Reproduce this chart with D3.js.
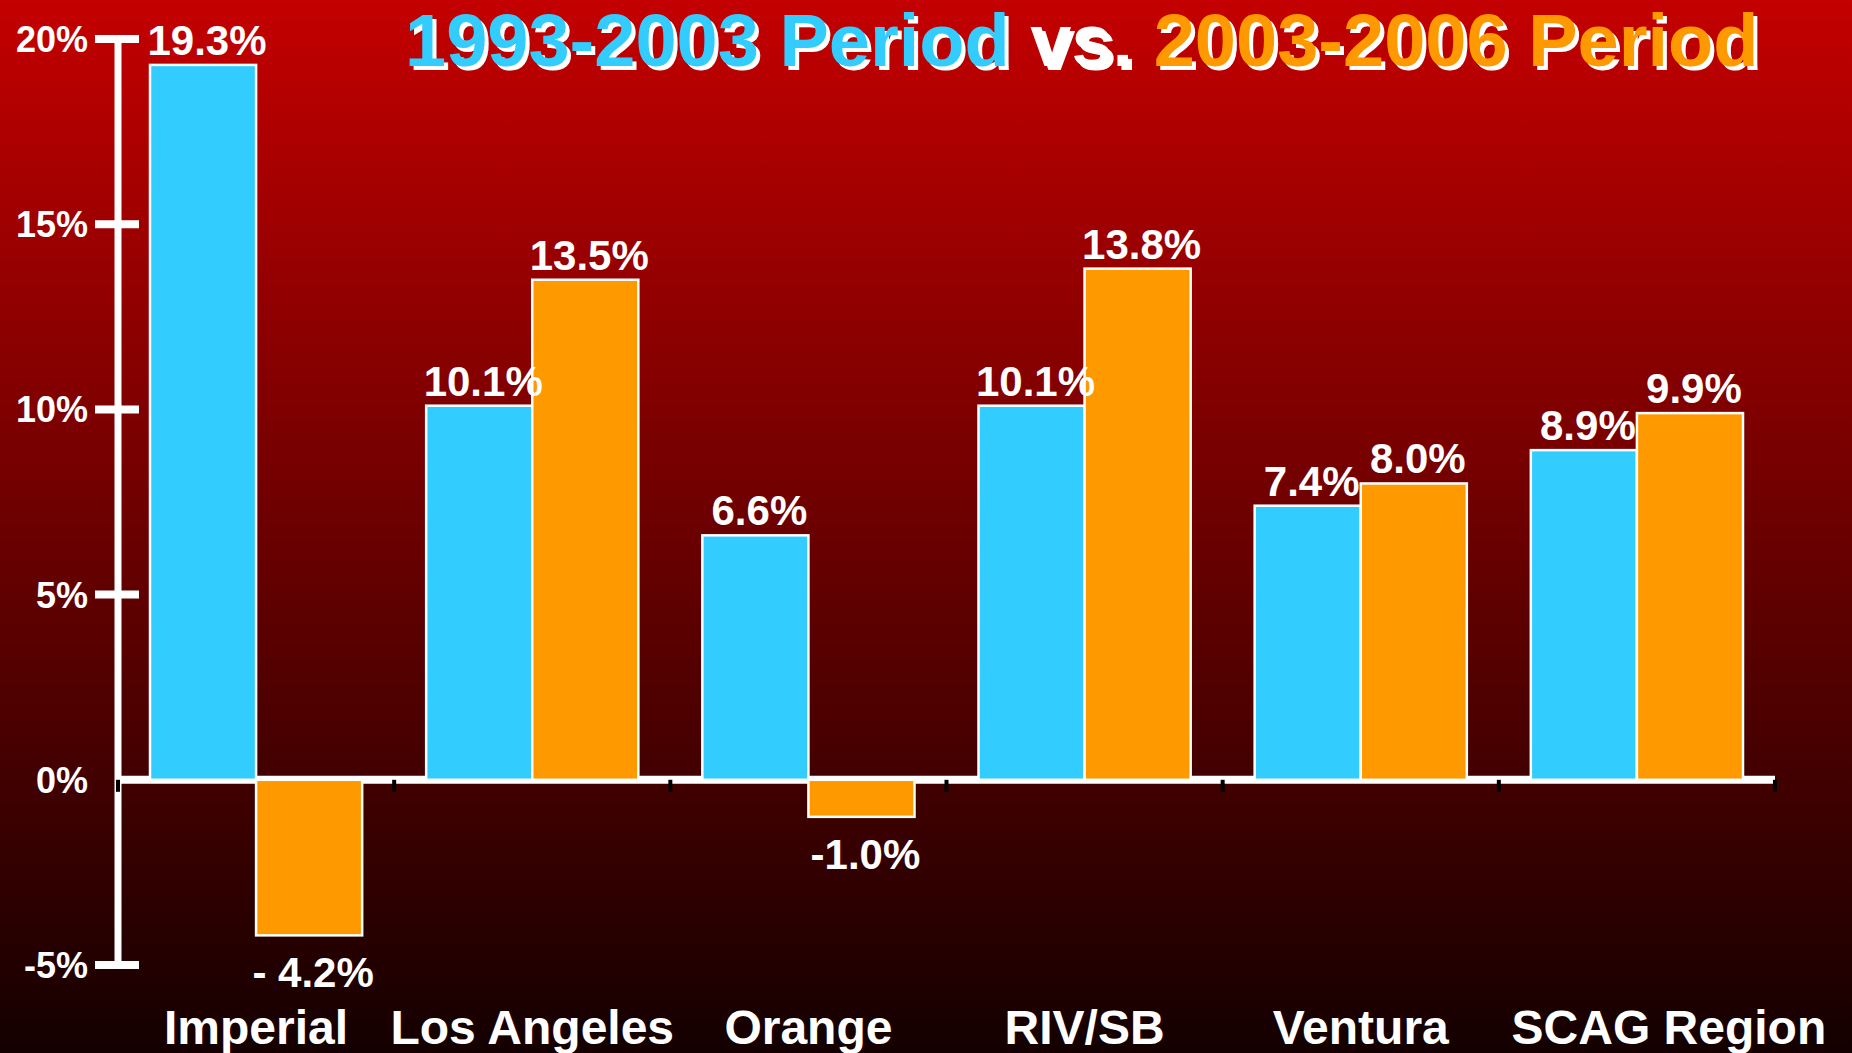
<!DOCTYPE html>
<html>
<head>
<meta charset="utf-8">
<script src="https://cdn.jsdelivr.net/npm/d3@7"></script>
<style>
  body { margin: 0; background: #000; }
  svg text { font-family: "Liberation Sans", Arial, sans-serif; font-weight: bold; }
</style>
</head>
<body>
<script>
// Data
var categories = ["Imperial", "Los Angeles", "Orange", "RIV/SB", "Ventura", "SCAG Region"];
var period1 = [19.3, 10.1, 6.6, 10.1, 7.4, 8.9];     // 1993-2003
var period2 = [-4.2, 13.5, -1.0, 13.8, 8.0, 9.9];    // 2003-2006
var period2Labels = ["- 4.2%", "13.5%", "-1.0%", "13.8%", "8.0%", "9.9%"];
var yTicks = [-5, 0, 5, 10, 15, 20];

var w = 1852, h = 1053;
var blue = "#33ccff", orange = "#ff9900";

var svg = d3.select("body").append("svg")
    .attr("width", w)
    .attr("height", h);

// Background gradient
var grad = svg.append("defs").append("linearGradient")
    .attr("id", "bg").attr("x1", 0).attr("y1", 0).attr("x2", 0).attr("y2", 1);
grad.append("stop").attr("offset", "0%").attr("stop-color", "#c40000");
grad.append("stop").attr("offset", "100%").attr("stop-color", "#140000");
svg.append("rect").attr("width", w).attr("height", h).attr("fill", "url(#bg)");

// Scales
var x0 = d3.scaleBand().domain(categories).range([118, 1775]);
var x1 = d3.scaleBand().domain(["a", "b"]).range([32, x0.bandwidth() - 32]);
var y = d3.scaleLinear().domain([-5, 20]).range([965, 39]);

// Title (white drop shadow under coloured text)
var title = [
  { t: "1993-2003 Period ", c: blue },
  { t: "vs. ", c: "#ffffff" },
  { t: "2003-2006 Period", c: orange }
];
[{ dx: 4, shadow: true }, { dx: 0, shadow: false }].forEach(function(layer) {
  var tx = svg.append("text")
      .attr("x", 405 + layer.dx)
      .attr("y", 66 + layer.dx)
      .attr("font-size", 74)
      .attr("xml:space", "preserve");
  tx.selectAll("tspan").data(title).enter().append("tspan")
      .attr("fill", function(d) { return layer.shadow ? "#ffffff" : d.c; })
      .text(function(d) { return d.t; });
});

// Y axis line and ticks
svg.append("line")
    .attr("x1", 118).attr("x2", 118)
    .attr("y1", y(20) - 4).attr("y2", y(-5) + 4)
    .attr("stroke", "#fff").attr("stroke-width", 7);

svg.selectAll(".ytick").data(yTicks.filter(function(d) { return d !== 0; }))
  .enter().append("line")
    .attr("class", "ytick")
    .attr("x1", 95).attr("x2", 139)
    .attr("y1", function(d) { return y(d); })
    .attr("y2", function(d) { return y(d); })
    .attr("stroke", "#fff").attr("stroke-width", 8);

svg.selectAll(".ylabel").data(yTicks)
  .enter().append("text")
    .attr("class", "ylabel")
    .attr("x", 88)
    .attr("y", function(d) { return y(d); })
    .attr("dy", "0.36em")
    .attr("text-anchor", "end")
    .attr("font-size", 36)
    .attr("fill", "#fff")
    .text(function(d) { return d + "%"; });

// X axis line
svg.append("line")
    .attr("x1", 118).attr("x2", 1775)
    .attr("y1", y(0)).attr("y2", y(0))
    .attr("stroke", "#fff").attr("stroke-width", 8);

// Small dark ticks on category boundaries
var bounds = categories.map(function(c) { return x0(c); }).concat([1775]);
svg.selectAll(".xtick").data(bounds)
  .enter().append("rect")
    .attr("class", "xtick")
    .attr("x", function(d) { return d - 2; })
    .attr("y", y(0))
    .attr("width", 4).attr("height", 12)
    .attr("fill", "#000");

// Bars
var rows = categories.map(function(c, i) {
  return [
    { cat: c, key: "a", v: period1[i], label: d3.format(".1f")(period1[i]) + "%", color: blue },
    { cat: c, key: "b", v: period2[i], label: period2Labels[i], color: orange }
  ];
});
var bars = d3.merge(rows);

svg.selectAll(".bar").data(bars)
  .enter().append("rect")
    .attr("class", "bar")
    .attr("x", function(d) { return x0(d.cat) + x1(d.key); })
    .attr("y", function(d) { return d.v >= 0 ? y(d.v) : y(0); })
    .attr("width", x1.bandwidth())
    .attr("height", function(d) { return Math.abs(y(d.v) - y(0)); })
    .attr("fill", function(d) { return d.color; })
    .attr("stroke", "#fff")
    .attr("stroke-width", 2.5);

// Value labels
svg.selectAll(".vlabel").data(bars)
  .enter().append("text")
    .attr("class", "vlabel")
    .attr("x", function(d) { return x0(d.cat) + x1(d.key) + x1.bandwidth() / 2 + 4; })
    .attr("y", function(d) { return d.v >= 0 ? y(d.v) - 10 : y(d.v) + 52; })
    .attr("text-anchor", "middle")
    .attr("font-size", 42)
    .attr("fill", "#fff")
    .text(function(d) { return d.label; });

// Category labels (last one sits a little right in the original)
svg.selectAll(".clabel").data(categories)
  .enter().append("text")
    .attr("class", "clabel")
    .attr("x", function(d, i) {
      return x0(d) + x0.bandwidth() / 2 + (i === categories.length - 1 ? 32 : 0);
    })
    .attr("y", 1044)
    .attr("text-anchor", "middle")
    .attr("font-size", 48)
    .attr("fill", "#fff")
    .text(function(d) { return d; });
</script>
</body>
</html>
